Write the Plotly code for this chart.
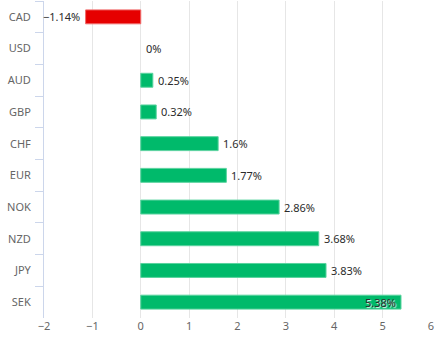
import plotly.graph_objects as go

# Currency performance (%)
currencies = ["CAD", "USD", "AUD", "GBP", "CHF", "EUR", "NOK", "NZD", "JPY", "SEK"]
changes = [-1.14, 0, 0.25, 0.32, 1.6, 1.77, 2.86, 3.68, 3.83, 5.38]
x_ticks = [-2, -1, 0, 1, 2, 3, 4, 5, 6]

GREEN = "#00ba6b"
GREEN_EDGE = "#5ad39f"
RED = "#e60000"
RED_EDGE = "#f06a6a"

labels = [f"{v:g}%".replace("-", "\u2212") for v in changes]
fill = [RED if v < 0 else GREEN for v in changes]
edge = [RED_EDGE if v < 0 else (GREEN_EDGE if v > 0 else "rgba(0,0,0,0)") for v in changes]

fig = go.Figure(
    go.Bar(
        x=changes,
        y=currencies,
        orientation="h",
        marker=dict(color=fill, line=dict(color=edge, width=1)),
        hoverinfo="skip",
    )
)

# value labels: left of negative bars, right of positive bars,
# inside the end of the longest bar
top = max(changes)
label_font = dict(family="Noto Sans", size=11, color="#2b2b2b",
                  shadow="1px 1px 1px white")
for cur, v, lab in zip(currencies, changes, labels):
    if v == top:
        anchor, shift = "right", -3
    elif v < 0:
        anchor, shift = "right", -4
    else:
        anchor, shift = "left", 3
    fig.add_annotation(
        x=v, y=cur, text=lab, showarrow=False,
        xanchor=anchor, xshift=shift, yanchor="middle",
        font=label_font,
    )

fig.update_layout(
    width=442,
    height=345,
    margin=dict(l=44, r=11, t=1, b=27),
    paper_bgcolor="white",
    plot_bgcolor="white",
    bargap=0.56,
    showlegend=False,
    font=dict(family="Noto Sans", size=11, color="#666666"),
)

fig.update_xaxes(
    range=[-2, 6],
    tickvals=x_ticks,
    ticktext=[str(t).replace("-", "\u2212") for t in x_ticks],
    showgrid=True,
    gridcolor="#e6e6e6",
    gridwidth=1,
    zeroline=False,
    showline=False,
    ticks="",
    tickfont=dict(size=11, color="#666666"),
    fixedrange=True,
)

fig.update_yaxes(
    categoryorder="array",
    categoryarray=currencies,
    autorange="reversed",
    showgrid=False,
    showline=True,
    linecolor="#ccd6eb",
    linewidth=1,
    ticks="outside",
    tickson="boundaries",
    ticklen=8,
    tickcolor="#ccd6eb",
    ticklabelstandoff=10,
    tickfont=dict(size=11, color="#666666"),
    fixedrange=True,
)

fig.write_html("out.html")
